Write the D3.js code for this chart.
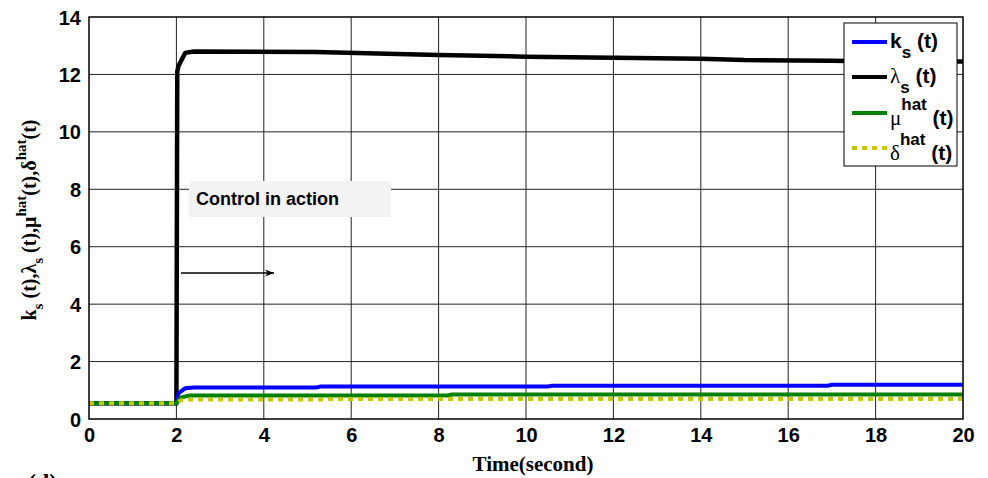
<!DOCTYPE html>
<html>
<head>
<meta charset="utf-8">
<script src="https://cdn.jsdelivr.net/npm/d3@7"></script>
<style>
  body { margin: 0; background: #fff; }
  svg text { font-family: "Liberation Sans", Arial, sans-serif; }
  .tick text { font-size: 20px; font-weight: bold; }
  .serif { font-family: "Liberation Serif", "Times New Roman", serif !important; font-weight: bold; }
</style>
</head>
<body>
<svg id="chart" width="988" height="478"></svg>
<script>
// time points (seconds) and series values
var timeK = [0, 2, 2.05, 2.2, 2.4, 5.2, 5.3, 10.5, 10.6, 16.9, 17, 20];
var kValues = [0.55, 0.55, 0.9, 1.07, 1.1, 1.1, 1.13, 1.13, 1.16, 1.16, 1.19, 1.19];

var timeL = [0, 2, 2.02, 2.05, 2.2, 2.4, 5.2, 8, 10, 12, 14, 15, 17, 18, 20];
var lambdaValues = [0.55, 0.55, 12.1, 12.3, 12.75, 12.8, 12.78, 12.68, 12.62, 12.58, 12.55, 12.5, 12.48, 12.45, 12.45];

var timeM = [0, 2, 2.1, 2.3, 8.2, 8.3, 20];
var muValues = [0.55, 0.55, 0.75, 0.82, 0.82, 0.85, 0.85];

var timeD = [0, 2, 2.1, 2.3, 5.4, 5.5, 20];
var deltaValues = [0.55, 0.55, 0.65, 0.68, 0.68, 0.7, 0.7];

var xTicks = [0, 2, 4, 6, 8, 10, 12, 14, 16, 18, 20];
var yTicks = [0, 2, 4, 6, 8, 10, 12, 14];

var legendLabels = [
  { base: "k", sub: "s", sup: null, color: "#0000ff", dash: null },
  { base: "\u03bb", sub: "s", sup: null, color: "#000000", dash: null },
  { base: "\u03bc", sub: null, sup: "hat", color: "#008000", dash: null },
  { base: "\u03b4", sub: null, sup: "hat", color: "#c8c800", dash: "5,5" }
];

var margin = { left: 89, right: 25, top: 17, bottom: 58 };
var width = 988, height = 478;

var svg = d3.select("#chart");

var x = d3.scaleLinear().domain([0, 20]).range([margin.left, width - margin.right]);
var y = d3.scaleLinear().domain([0, 14]).range([height - margin.bottom - 1, margin.top]);

// grid
svg.append("g")
  .selectAll("line.vg")
  .data(xTicks.slice(1, -1))
  .enter().append("line")
  .attr("x1", d => x(d)).attr("x2", d => x(d))
  .attr("y1", y(0)).attr("y2", y(14))
  .attr("stroke", "#222").attr("stroke-width", 1);

svg.append("g")
  .selectAll("line.hg")
  .data(yTicks.slice(1, -1))
  .enter().append("line")
  .attr("x1", x(0)).attr("x2", x(20))
  .attr("y1", d => y(d)).attr("y2", d => y(d))
  .attr("stroke", "#222").attr("stroke-width", 1);

// axes
var xAxis = svg.append("g")
  .attr("transform", "translate(0," + y(0) + ")")
  .call(d3.axisBottom(x).tickValues(xTicks).tickSize(0).tickPadding(9));
var yAxis = svg.append("g")
  .attr("transform", "translate(" + x(0) + ",0)")
  .call(d3.axisLeft(y).tickValues(yTicks).tickSize(0).tickPadding(8));
xAxis.select(".domain").remove();
yAxis.select(".domain").remove();
xAxis.selectAll("text").attr("fill", "#000");
yAxis.selectAll("text").attr("fill", "#000").attr("dy", "0.35em");

// series
var line = d3.line().x(d => x(d[0])).y(d => y(d[1]));
function pairs(t, v) { return t.map((d, i) => [d, v[i]]); }

svg.append("path").datum(pairs(timeL, lambdaValues))
  .attr("d", line).attr("fill", "none").attr("stroke", "#000").attr("stroke-width", 4.5)
  .attr("stroke-linejoin", "round");
svg.append("path").datum(pairs(timeK, kValues))
  .attr("d", line).attr("fill", "none").attr("stroke", "#0000ff").attr("stroke-width", 4);
svg.append("path").datum(pairs(timeM, muValues))
  .attr("d", line).attr("fill", "none").attr("stroke", "#008000").attr("stroke-width", 4);
svg.append("path").datum(pairs(timeD, deltaValues))
  .attr("d", line).attr("fill", "none").attr("stroke", "#c8c800").attr("stroke-width", 4)
  .attr("stroke-dasharray", "5,5");

// frame
svg.append("rect")
  .attr("x", x(0)).attr("y", y(14))
  .attr("width", x(20) - x(0)).attr("height", y(0) - y(14))
  .attr("fill", "none").attr("stroke", "#000").attr("stroke-width", 1.5);

// annotation
svg.append("rect").attr("x", 189).attr("y", 181).attr("width", 202).attr("height", 36)
  .attr("fill", "#f3f3f3");
svg.append("text").attr("x", 196).attr("y", 205)
  .attr("font-size", 18).attr("font-weight", "bold").text("Control in action");

svg.append("defs").append("marker")
  .attr("id", "arrow").attr("viewBox", "0 0 10 10")
  .attr("refX", 10).attr("refY", 5)
  .attr("markerWidth", 10).attr("markerHeight", 9)
  .attr("markerUnits", "userSpaceOnUse")
  .attr("orient", "auto")
  .append("path").attr("d", "M0,1 L10,5 L0,9 L3,5 Z").attr("fill", "#000");
svg.append("line").attr("x1", 181).attr("x2", 274).attr("y1", 273).attr("y2", 273)
  .attr("stroke", "#000").attr("stroke-width", 1.3).attr("marker-end", "url(#arrow)");

// legend
var lg = svg.append("g");
lg.append("rect").attr("x", 844).attr("y", 23).attr("width", 113).attr("height", 143)
  .attr("fill", "#fff").attr("stroke", "#000").attr("stroke-width", 1);
var rowY = [42, 77, 113, 148];
legendLabels.forEach(function (d, i) {
  var yy = rowY[i];
  lg.append("line").attr("x1", 852).attr("x2", 887).attr("y1", yy).attr("y2", yy)
    .attr("stroke", d.color).attr("stroke-width", 4)
    .attr("stroke-dasharray", d.dash);
  var t = lg.append("text").attr("x", 890).attr("y", yy + 6)
    .attr("font-size", 21).attr("font-weight", "bold");
  if (d.sub) {
    t.append("tspan").text(d.base).attr("font-weight", d.base === "k" ? "bold" : "normal")
      .attr("font-family", d.base === "k" ? null : "Liberation Serif, serif");
    t.append("tspan").text(d.sub).attr("font-size", 17).attr("dy", 10);
    t.append("tspan").text(" (t)").attr("dy", -10);
  } else {
    t.append("tspan").text(d.base).attr("font-weight", "normal")
      .attr("font-family", "Liberation Serif, serif").attr("dy", 6);
    t.append("tspan").text(d.sup).attr("font-size", 17).attr("dy", -15);
    t.append("tspan").text(" (t)").attr("dy", 15);
  }
});

// axis titles
var yl = svg.append("text").attr("class", "serif")
  .attr("transform", "translate(36,220) rotate(-90)")
  .attr("text-anchor", "middle").attr("font-size", 20);
yl.append("tspan").text("k");
yl.append("tspan").text("s").attr("font-size", 15).attr("dy", 7);
yl.append("tspan").text(" (t),\u03bb").attr("dy", -7);
yl.append("tspan").text("s").attr("font-size", 15).attr("dy", 7);
yl.append("tspan").text(" (t),\u03bc").attr("dy", -7);
yl.append("tspan").text("hat").attr("font-size", 15).attr("dy", -10);
yl.append("tspan").text("(t),\u03b4").attr("dy", 10);
yl.append("tspan").text("hat").attr("font-size", 15).attr("dy", -10);
yl.append("tspan").text("(t)").attr("dy", 10);

svg.append("text").attr("class", "serif").attr("x", 533).attr("y", 471)
  .attr("text-anchor", "middle").attr("font-size", 21).text("Time(second)");

svg.append("text").attr("class", "serif").attr("x", 28).attr("y", 490)
  .attr("font-size", 24).text("(d)");
</script>
</body>
</html>
